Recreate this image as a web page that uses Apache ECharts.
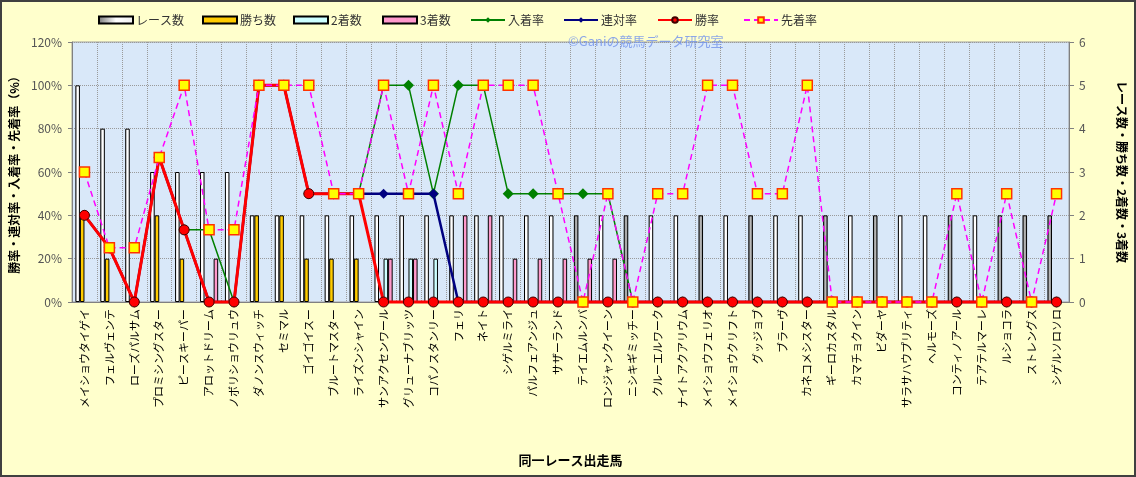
<!DOCTYPE html>
<html>
<head>
<meta charset="utf-8">
<script src="https://cdn.jsdelivr.net/npm/echarts@6/dist/echarts.min.js"></script>
<style>
html,body{margin:0;padding:0;background:#FFFFCC;}
#c{width:1136px;height:477px;}
</style>
</head>
<body>
<div id="c"></div>
<script>
const categories = ['メイショウタイゲイ','フェルヴェンテ','ローズパルサム','プロミシングスター','ピースキーパー','アロットドリーム','ノボリショウリュウ','ダノンスウィッチ','セミマル','ゴイゴイスー','ブルートマスター','ライズンシャイン','サンアクセンワール','グリューナブリッツ','コパノスタンリー','フェリ','ネイト','シゲルミライ','パルフェアンジュ','サザーランド','テイエムルンバ','ロンジャンクイーン','ニシキギミッチー','クルーエルワーク','ナイトアクアリウム','メイショウフェリオ','メイショウクリフト','グッジョブ','ブラーヴ','カネコメシスター','ギーロカスタル','カマチョクイン','ビダーヤ','サラサハウプリティ','ヘルモーズ','コンティノアール','テアテルマーレ','ルショコラ','ストレングス','シゲルソロソロ'];

const raceCount = [5,4,4,3,3,3,3,2,2,2,2,2,2,2,2,2,2,2,2,2,2,2,2,2,2,2,2,2,2,2,2,2,2,2,2,2,2,2,2,2];
const winCount  = [2,1,0,2,1,0,0,2,2,1,1,1,0,0,0,0,0,0,0,0,0,0,0,0,0,0,0,0,0,0,0,0,0,0,0,0,0,0,0,0];
const secondCount = [0,0,0,0,0,0,0,0,0,0,0,0,1,1,1,0,0,0,0,0,0,0,0,0,0,0,0,0,0,0,0,0,0,0,0,0,0,0,0,0];
const thirdCount  = [0,0,0,0,0,1,0,0,0,0,0,0,1,1,0,2,2,1,1,1,1,1,0,0,0,0,0,0,0,0,0,0,0,0,0,0,0,0,0,0];

const showRate  = [40,25,0,66.7,33.3,33.3,0,100,100,50,50,50,100,100,50,100,100,50,50,50,50,50,0,0,0,0,0,0,0,0,0,0,0,0,0,0,0,0,0,0];
const placeRate = [40,25,0,66.7,33.3,0,0,100,100,50,50,50,50,50,50,0,0,0,0,0,0,0,0,0,0,0,0,0,0,0,0,0,0,0,0,0,0,0,0,0];
const winRate   = [40,25,0,66.7,33.3,0,0,100,100,50,50,50,0,0,0,0,0,0,0,0,0,0,0,0,0,0,0,0,0,0,0,0,0,0,0,0,0,0,0,0];
const aheadRate = [60,25,25,66.7,100,33.3,33.3,100,100,100,50,50,100,50,100,50,100,100,100,50,0,50,0,50,50,100,100,50,50,100,0,0,0,0,0,50,0,50,0,50];

const leftTicks = [0,20,40,60,80,100,120];
const rightTicks = [0,1,2,3,4,5,6];

// styling
const FONT = '"Noto Sans CJK JP", "Noto Sans", sans-serif';
const darkBars = new Set([20,22,25,27,30,32,35,37,38,39]);
const whiteGrad = new echarts.graphic.LinearGradient(0,0,1,0,[{offset:0,color:'#aaaaaa'},{offset:0.35,color:'#ffffff'},{offset:0.7,color:'#ffffff'},{offset:1,color:'#bbbbbb'}]);
const grayGrad = new echarts.graphic.LinearGradient(0,0,1,0,[{offset:0,color:'#666666'},{offset:0.5,color:'#bdbdbd'},{offset:1,color:'#707070'}]);
const legendGrad = new echarts.graphic.LinearGradient(0,0,1,0,[{offset:0,color:'#777'},{offset:0.5,color:'#fff'},{offset:1,color:'#eee'}]);
const nz = v => (v === 0 ? null : v);

const chart = echarts.init(document.getElementById('c'), null, {renderer:'canvas'});

const legendDefs = [
  ['レース数',93,'rect'],['勝ち数',197,'rect'],['2着数',288,'rect'],['3着数',377,'rect'],
  ['入着率',465,null],['連対率',558,null],['勝率',652,null],['先着率',738,null]
];

const option = {
  backgroundColor:'#FFFFCC',
  textStyle:{fontFamily:FONT},
  animation:false,
  legend: legendDefs.map(([n,x,ic])=>({
    data:[ic ? {name:n,icon:ic} : {name:n}], left:x, top:9, itemWidth:34, itemHeight:7, itemGap:0,
    textStyle:{fontSize:12,color:'#333',fontFamily:FONT, padding:[0,0,0,-2]}
  })),
  grid:{left:72,right:63,top:42,bottom:175,show:true,backgroundColor:'#d9e8f9',borderColor:'#a0a0a0',borderWidth:1},
  graphic:[
    {type:'text',left:568,top:35,z:50,style:{text:'©Ganiの競馬データ研究室',fontSize:13,fontFamily:FONT,fill:'rgba(120,150,235,0.85)'}},
    {type:'rect',shape:{x:1,y:1,width:1134,height:475},style:{fill:'none',stroke:'#404040',lineWidth:2},z:100}
  ],
  xAxis:{
    type:'category', data:categories,
    name:'同一レース出走馬', nameLocation:'middle', nameGap:152,
    nameTextStyle:{fontSize:13,fontWeight:'bold',color:'#000',fontFamily:FONT},
    axisLine:{lineStyle:{color:'#808080'}},
    axisTick:{show:false},
    axisLabel:{interval:0,rotate:90,fontSize:11,color:'#000',margin:7,fontFamily:FONT},
    splitLine:{show:true,interval:0,lineStyle:{color:'#9a9a9a',type:'dotted',width:1}}
  },
  yAxis:[
    {type:'value',min:0,max:120,interval:20,position:'left',
     name:'勝率・連対率・入着率・先着率（%）',nameLocation:'middle',nameGap:43,
     nameTextStyle:{fontSize:12,fontWeight:'bold',color:'#000',fontFamily:FONT},
     axisLine:{show:true,lineStyle:{color:'#808080'}},
     axisTick:{show:true,length:4,lineStyle:{color:'#808080'}},
     axisLabel:{formatter:v=>v+'%',fontSize:12,color:'#555',margin:10},
     splitLine:{show:true,lineStyle:{color:'#9a9a9a',type:'dotted'}}
    },
    {type:'value',min:0,max:6,interval:1,position:'right',
     name:'レース数・勝ち数・2着数・3着数',nameLocation:'middle',nameGap:47,nameRotate:-90,
     nameTextStyle:{fontSize:12,fontWeight:'bold',color:'#000',fontFamily:FONT},
     axisLine:{show:true,lineStyle:{color:'#808080'}},
     axisTick:{show:true,length:5,lineStyle:{color:'#808080'}},
     axisLabel:{fontSize:12,color:'#555',margin:10},
     splitLine:{show:false}
    }
  ],
  series:[
    {name:'レース数',type:'bar',yAxisIndex:1,barGap:'0%',barCategoryGap:'27%',
     data:raceCount.map((v,i)=>({value:nz(v),itemStyle:{color:darkBars.has(i)?grayGrad:whiteGrad}})),
     itemStyle:{color:legendGrad,borderColor:'#000',borderWidth:1}},
    {name:'勝ち数',type:'bar',yAxisIndex:1,data:winCount.map(nz),itemStyle:{color:'#FFCC00',borderColor:'#000',borderWidth:1}},
    {name:'2着数',type:'bar',yAxisIndex:1,data:secondCount.map(nz),itemStyle:{color:'#CCFFFF',borderColor:'#000',borderWidth:1}},
    {name:'3着数',type:'bar',yAxisIndex:1,data:thirdCount.map(nz),itemStyle:{color:'#FF99CC',borderColor:'#000',borderWidth:1}},
    {name:'入着率',type:'line',yAxisIndex:0,data:showRate,clip:false,z:3,
     lineStyle:{color:'#008000',width:1.5},itemStyle:{color:'#008000'},symbol:'diamond',symbolSize:11},
    {name:'連対率',type:'line',yAxisIndex:0,data:placeRate,clip:false,z:4,
     lineStyle:{color:'#000080',width:2.5},itemStyle:{color:'#000080'},symbol:'diamond',symbolSize:10},
    {name:'勝率',type:'line',yAxisIndex:0,data:winRate,clip:false,z:5,
     lineStyle:{color:'#FF0000',width:3},itemStyle:{color:'#FF0000',borderColor:'#400000',borderWidth:1},symbol:'circle',symbolSize:10},
    {name:'先着率',type:'line',yAxisIndex:0,data:aheadRate,clip:false,z:6,
     lineStyle:{color:'#FF00FF',width:1.5,type:[6,4]},itemStyle:{color:'#FFFF00',borderColor:'#FF3300',borderWidth:1.5},symbol:'rect',symbolSize:10}
  ]
};
chart.setOption(option);
</script>
</body>
</html>
